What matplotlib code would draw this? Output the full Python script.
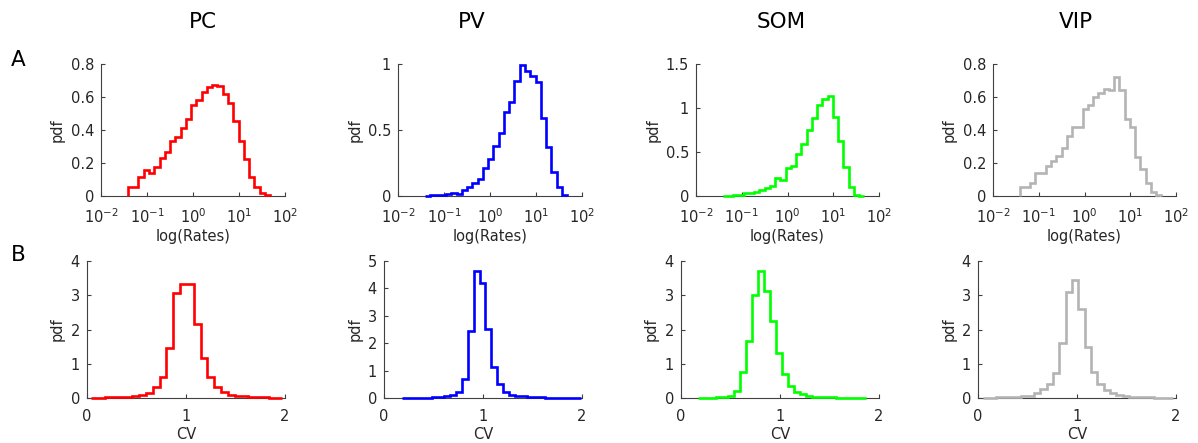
import numpy as np
import matplotlib
matplotlib.use('Agg')
import matplotlib.pyplot as plt
from matplotlib.ticker import FuncFormatter, NullLocator

# cell types / colours
cell_types = ['PC', 'PV', 'SOM', 'VIP']
colors = ['#ff0000', '#0000ff', '#00ff00', '#b4b4b4']

## RATE HISTOGRAMS (log-spaced bins, shared edges)
rate_log_lo, rate_log_hi, rate_nbins = -1.415, 1.677, 27

rate_pc = [0.057, 0.057, 0.113, 0.158, 0.141, 0.178, 0.232, 0.267, 0.333, 0.36,
           0.412, 0.469, 0.552, 0.582, 0.632, 0.659, 0.673, 0.668, 0.618, 0.562,
           0.457, 0.333, 0.222, 0.113, 0.053, 0.016, 0.006]
rate_pv = [0.002, 0.004, 0.006, 0.006, 0.012, 0.025, 0.013, 0.045, 0.07, 0.096,
           0.129, 0.21, 0.278, 0.379, 0.48, 0.634, 0.71, 0.871, 0.992, 0.947,
           0.912, 0.861, 0.588, 0.374, 0.184, 0.066, 0.008]
rate_som = [0.004, 0.004, 0.008, 0.011, 0.03, 0.038, 0.042, 0.068, 0.087, 0.114,
            0.2, 0.18, 0.314, 0.34, 0.477, 0.587, 0.75, 0.883, 1.034, 1.098,
            1.136, 0.894, 0.625, 0.326, 0.106, 0.008, 0.0]
rate_vip = [0.057, 0.057, 0.081, 0.137, 0.137, 0.182, 0.214, 0.242, 0.293, 0.364,
            0.42, 0.42, 0.525, 0.552, 0.598, 0.622, 0.646, 0.642, 0.719, 0.642,
            0.465, 0.42, 0.234, 0.162, 0.081, 0.026, 0.008]

rate_yticks = [[0, 0.2, 0.4, 0.6, 0.8], [0, 0.5, 1], [0, 0.5, 1, 1.5],
               [0, 0.2, 0.4, 0.6, 0.8]]

## CV HISTOGRAMS (linear bins: start, width)
cv_start = [0.045, 0.185, 0.175, 0.052]
cv_width = [0.0689, 0.060, 0.0605, 0.064]

cv_pc = [0.01, 0.01, 0.015, 0.02, 0.03, 0.04, 0.06, 0.1, 0.16, 0.33,
         0.6, 1.47, 3.07, 3.32, 3.32, 2.16, 1.16, 0.6, 0.33, 0.18,
         0.1, 0.07, 0.05, 0.035, 0.025, 0.015, 0.01, 0.01]
cv_pv = [0.005, 0.005, 0.008, 0.01, 0.015, 0.025, 0.04, 0.07, 0.12, 0.23,
         0.68, 2.45, 4.64, 4.2, 2.51, 1.14, 0.51, 0.23, 0.11, 0.07,
         0.06, 0.04, 0.03, 0.02, 0.015, 0.01, 0.008, 0.005, 0.004, 0.003]
cv_som = [0.003, 0.005, 0.01, 0.015, 0.03, 0.06, 0.21, 0.75, 1.66, 3.02,
          3.71, 3.13, 2.24, 1.3, 0.7, 0.36, 0.18, 0.11, 0.07, 0.04,
          0.03, 0.02, 0.015, 0.01, 0.008, 0.005, 0.004, 0.003]
cv_vip = [0.01, 0.012, 0.015, 0.02, 0.025, 0.035, 0.045, 0.07, 0.14, 0.26,
          0.4, 0.72, 1.62, 3.1, 3.44, 2.59, 1.5, 0.75, 0.41, 0.23,
          0.155, 0.1, 0.06, 0.04, 0.03, 0.02, 0.015, 0.01, 0.008, 0.005]

cv_yticks = [[0, 1, 2, 3, 4], [0, 1, 2, 3, 4, 5], [0, 1, 2, 3, 4], [0, 1, 2, 3, 4]]

rates = [rate_pc, rate_pv, rate_som, rate_vip]
cvs = [cv_pc, cv_pv, cv_som, cv_vip]

W, H = 1198, 443
fig = plt.figure(figsize=(W / 100, H / 100), dpi=100)

txt_col = '#262626'
ax_col = '#404040'

def px_axes(left, top, right, bottom):
    return fig.add_axes([left / W, 1 - bottom / H, (right - left) / W, (bottom - top) / H])

def style(ax):
    for s in ['top', 'right']:
        ax.spines[s].set_visible(False)
    for s in ['left', 'bottom']:
        ax.spines[s].set_color(ax_col)
        ax.spines[s].set_linewidth(0.8)
    ax.tick_params(direction='in', length=3, width=0.8, color=ax_col,
                   labelcolor=txt_col, labelsize=10.5)
    ax.tick_params(axis='x', pad=8)
    ax.tick_params(axis='y', pad=5)
    ax.patch.set_alpha(0)

gfmt = FuncFormatter(lambda v, p: '%g' % v)

rate_edges = np.logspace(rate_log_lo, rate_log_hi, rate_nbins + 1)
a_lefts = [101, 398, 696, 993]
b_lefts = [87, 384, 681, 978]
rights = [285, 582, 879, 1176]

for i in range(4):
    # row A
    ax = px_axes(a_lefts[i], 64, rights[i], 196)
    ax.stairs(rates[i], rate_edges, color=colors[i], lw=1.9, baseline=0,
              zorder=3, clip_on=False)
    ax.set_xscale('log')
    ax.set_xlim(1e-2, 1e2)
    ax.set_xticks([1e-2, 1e-1, 1, 1e1, 1e2])
    ax.xaxis.set_minor_locator(NullLocator())
    ax.set_ylim(0, rate_yticks[i][-1])
    ax.set_yticks(rate_yticks[i])
    ax.yaxis.set_major_formatter(gfmt)
    style(ax)
    ax.set_xlabel('log(Rates)', fontsize=10.5, color=txt_col, labelpad=2)
    ax.set_ylabel('pdf', fontsize=10.5, color=txt_col, labelpad=4)

    # row B
    ax = px_axes(b_lefts[i], 261, rights[i], 398)
    n = len(cvs[i])
    edges = cv_start[i] + cv_width[i] * np.arange(n + 1)
    ax.stairs(cvs[i], edges, color=colors[i], lw=1.9, baseline=0,
              zorder=3, clip_on=False)
    ax.set_xlim(0, 2)
    ax.set_xticks([0, 1, 2])
    ax.set_ylim(0, cv_yticks[i][-1])
    ax.set_yticks(cv_yticks[i])
    ax.xaxis.set_major_formatter(gfmt)
    style(ax)
    ax.set_xlabel('CV', fontsize=10.5, color=txt_col, labelpad=2)
    ax.set_ylabel('pdf', fontsize=10.5, color=txt_col, labelpad=4)

# column titles and panel letters
title_x = [203, 472, 781, 1076]
for i, name in enumerate(cell_types):
    fig.text(title_x[i] / W, 1 - 22 / H, name, fontsize=15.5, ha='center', va='center')
fig.text(18 / W, 1 - 60 / H, 'A', fontsize=15.5, ha='center', va='center')
fig.text(18 / W, 1 - 255 / H, 'B', fontsize=15.5, ha='center', va='center')

fig.savefig('out.png', dpi=100)
